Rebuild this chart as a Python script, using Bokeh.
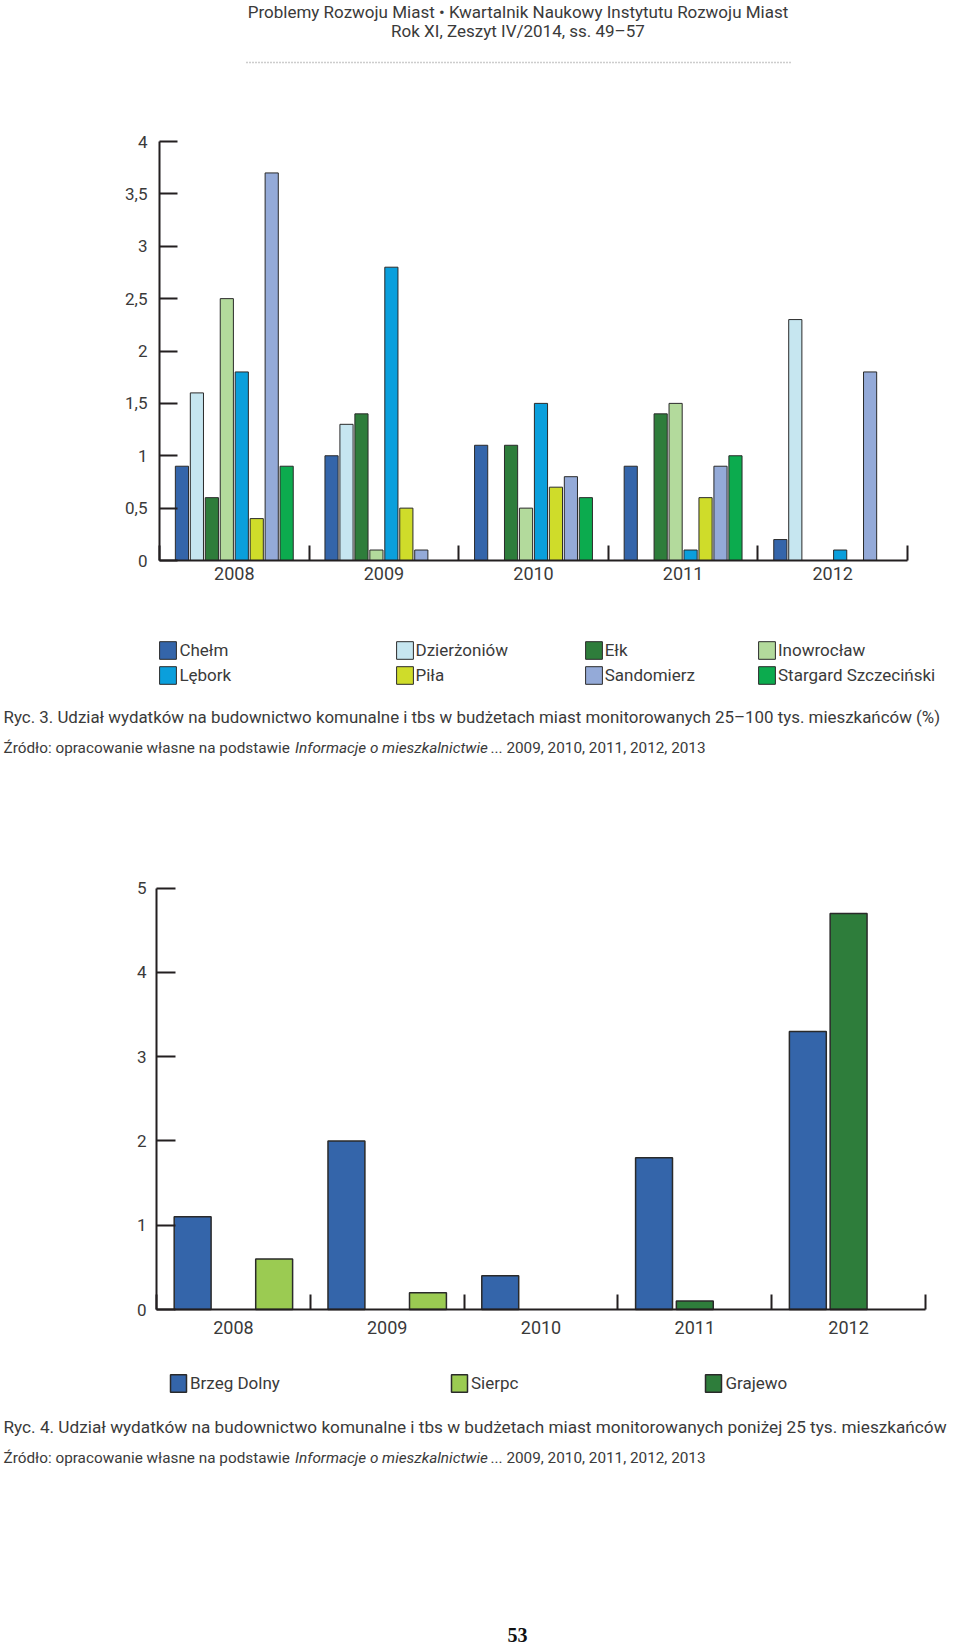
from bokeh.plotting import figure
from bokeh.models import (Range1d, FixedTicker, CustomJSTickFormatter, Legend, LegendItem,
                          Label, Arrow, ColumnDataSource)
from bokeh.layouts import column
from bokeh.embed import file_html
from bokeh.resources import INLINE

# ---------------- data ----------------
years = ["2008", "2009", "2010", "2011", "2012"]

towns1 = ["Chełm", "Dzierżoniów", "Ełk", "Inowrocław",
          "Lębork", "Piła", "Sandomierz", "Stargard Szczeciński"]
chelm = [0.9, 1.0, 1.1, 0.9, 0.2]
dzierzoniow = [1.6, 1.3, 0.0, 0.0, 2.3]
elk = [0.6, 1.4, 1.1, 1.4, 0.0]
inowroclaw = [2.5, 0.1, 0.5, 1.5, 0.0]
lebork = [1.8, 2.8, 1.5, 0.1, 0.1]
pila = [0.4, 0.5, 0.7, 0.6, 0.0]
sandomierz = [3.7, 0.1, 0.8, 0.9, 1.8]
stargard = [0.9, 0.0, 0.6, 1.0, 0.0]
series1 = [chelm, dzierzoniow, elk, inowroclaw, lebork, pila, sandomierz, stargard]
ticks1 = [0, 0.5, 1, 1.5, 2, 2.5, 3, 3.5, 4]

towns2 = ["Brzeg Dolny", "Sierpc", "Grajewo"]
brzeg_dolny = [1.1, 2.0, 0.4, 1.8, 3.3]
sierpc = [0.6, 0.2, 0.0, 0.0, 0.0]
grajewo = [0.0, 0.0, 0.0, 0.1, 4.7]
series2 = [brzeg_dolny, sierpc, grajewo]
ticks2 = [0, 1, 2, 3, 4, 5]

header1 = "Problemy Rozwoju Miast • Kwartalnik Naukowy Instytutu Rozwoju Miast"
header2 = "Rok XI, Zeszyt IV/2014, ss. 49–57"
caption3 = ("Ryc. 3. Udział wydatków na budownictwo komunalne i tbs w budżetach miast "
            "monitorowanych 25–100 tys. mieszkańców (%)")
caption4 = ("Ryc. 4. Udział wydatków na budownictwo komunalne i tbs w budżetach miast "
            "monitorowanych poniżej 25 tys. mieszkańców")
src_a = "Źródło: opracowanie własne na podstawie"
src_b = "Informacje o mieszkalnictwie"
src_c = "... 2009, 2010, 2011, 2012, 2013"
page_no = "53"

# ---------------- styles ----------------
colors1 = ["#3465aa", "#c6e6f0", "#2e7d3b", "#b3da9c",
           "#0a9fdc", "#cfdc2a", "#94aad8", "#0cab4e"]
colors2 = ["#3465aa", "#9bcb52", "#2e7d3b"]
FONT = "Roboto"
TXT = "#3a3a3a"
AX = "#231f20"
OUT = "#2a2a2a"
W = 958


def make_fig(h, top_page, ax_px, ymax, ay0_page, ay1_page):
    """Figure whose frame is the whole canvas; data ranges chosen so the
    chart area lands at the given page pixel positions."""
    x0c, x1c = ax_px
    ppx = (x1c - x0c) / len(years)
    y0c = (top_page + h) - ay0_page          # canvas px of value 0 from bottom
    ppy = (ay0_page - ay1_page) / ymax
    xr = Range1d(-x0c / ppx, (W - x0c) / ppx)
    yr = Range1d(-y0c / ppy, (h - y0c) / ppy)
    p = figure(width=W, height=h, output_backend="svg", toolbar_location=None,
               x_range=xr, y_range=yr, min_border=0)
    p.xgrid.visible = False
    p.ygrid.visible = False
    p.outline_line_color = None
    return p


def style(p, yticks, ystandoff, xstandoff, ytick_len):
    xa = p.xaxis[0]
    xa.fixed_location = 0
    xa.bounds = (0, len(years))
    xa.ticker = FixedTicker(ticks=[i + 0.5 for i in range(len(years))],
                            minor_ticks=list(range(len(years) + 1)))
    xa.major_label_overrides = {i + 0.5: y for i, y in enumerate(years)}
    xa.major_tick_line_color = None
    xa.minor_tick_in = 15
    xa.minor_tick_out = 0
    xa.minor_tick_line_width = 2
    xa.minor_tick_line_color = AX
    xa.axis_line_width = 2
    xa.axis_line_color = AX
    xa.major_label_text_font = FONT
    xa.major_label_text_font_size = "18px"
    xa.major_label_text_color = TXT
    xa.major_label_standoff = xstandoff
    ya = p.yaxis[0]
    ya.fixed_location = 0
    ya.bounds = (0, yticks[-1])
    ya.ticker = FixedTicker(ticks=yticks)
    ya.formatter = CustomJSTickFormatter(code="return tick.toString().replace('.', ',')")
    ya.major_tick_in = ytick_len
    ya.major_tick_out = 0
    ya.major_tick_line_width = 2
    ya.major_tick_line_color = AX
    ya.minor_tick_line_color = None
    ya.axis_line_width = 2
    ya.axis_line_color = AX
    ya.major_label_text_font = FONT
    ya.major_label_text_font_size = "17px"
    ya.major_label_text_color = TXT
    ya.major_label_standoff = ystandoff


def lab(p, x, y, text, size, align="left", style_="normal", font=FONT, color=TXT,
        baseline="middle"):
    p.add_layout(Label(x=x, y=y, x_units="screen", y_units="screen", text=text,
                       text_font=font, text_font_size=size, text_color=color,
                       text_align=align, text_baseline=baseline,
                       text_font_style=style_))


def legend(items, loc, gw, gh, standoff, spacing):
    return Legend(items=items, location=loc, orientation="vertical",
                  glyph_width=gw, glyph_height=gh, label_height=gh,
                  label_standoff=standoff, spacing=spacing, padding=0, margin=0,
                  border_line_color=None, background_fill_alpha=0,
                  label_text_font=FONT, label_text_font_size="17px",
                  label_text_color=TXT)


# ================= figure 1 (page y 0..790) =================
H1 = 790
p1 = make_fig(H1, 0, (159, 907), 4, 560, 141)
style(p1, ticks1, 12, 0, 18)

n1 = len(series1)
slot = 0.8 / n1
r1 = []
for j, vals in enumerate(series1):
    xs = [i + 0.5 - 0.4 + slot * (j + 0.5) for i, v in enumerate(vals) if v > 0]
    tops = [v for v in vals if v > 0]
    src = ColumnDataSource(dict(x=xs, top=tops))
    r = p1.vbar(x="x", top="top", bottom=0, width=slot * 0.88, source=src,
                fill_color=colors1[j], line_color=OUT, line_width=1)
    r1.append(r)

# screen coords in fig1: x = page_x, y = 790 - page_y
leg_x1 = [157.4, 393.5, 582.7, 756]
for c in range(4):
    items = [LegendItem(label=towns1[c], renderers=[r1[c]]),
             LegendItem(label=towns1[c + 4], renderers=[r1[c + 4]])]
    p1.add_layout(legend(items, (leg_x1[c], 104), 21, 22, 1, 3))

lab(p1, 517.5, 779, header1, "17px", align="center")
lab(p1, 517.5, 759.6, header2, "17px", align="center")
p1.add_layout(Arrow(start=None, end=None, x_start=246, y_start=728, x_end=790, y_end=728,
                    start_units="screen", end_units="screen",
                    line_color="#9a9a9a", line_width=1.5, line_dash="1 2"))
lab(p1, 3, 73.3, caption3, "16.9px")
lab(p1, 3, 43, src_a, "15.3px")
lab(p1, 294.5, 43, src_b, "15.3px", style_="italic")
lab(p1, 490, 43, src_c, "15.3px")

# ================= figure 2 (page y 790..1646) =================
H2 = 856
p2 = make_fig(H2, 790, (156, 925), 5, 1309, 887.7)
style(p2, ticks2, 10, 5, 19)

offsets2 = [-0.265, 0.265, 0.0]   # Brzeg Dolny, Sierpc, Grajewo
r2 = []
for j, vals in enumerate(series2):
    xs = [i + 0.5 + offsets2[j] for i, v in enumerate(vals) if v > 0]
    tops = [v for v in vals if v > 0]
    src = ColumnDataSource(dict(x=xs, top=tops))
    r = p2.vbar(x="x", top="top", bottom=0, width=0.24, source=src,
                fill_color=colors2[j], line_color=OUT, line_width=1.5)
    r2.append(r)

# screen coords in fig2: x = page_x, y = 1646 - page_y
leg_x2 = [168, 449, 703.4]
for c in range(3):
    p2.add_layout(legend([LegendItem(label=towns2[c], renderers=[r2[c]])],
                         (leg_x2[c], 252.4), 20, 22, 2, 0))

lab(p2, 3, 220, caption4, "17.2px")
lab(p2, 3, 188.5, src_a, "15.3px")
lab(p2, 294.5, 188.5, src_b, "15.3px", style_="italic")
lab(p2, 490, 188.5, src_c, "15.3px")
lab(p2, 517, 12, page_no, "20px", align="center", style_="bold",
    font="Liberation Serif", color="#111111", baseline="alphabetic")

layout = column(p1, p2, spacing=0)
open("out.html", "w").write(file_html(layout, INLINE))
